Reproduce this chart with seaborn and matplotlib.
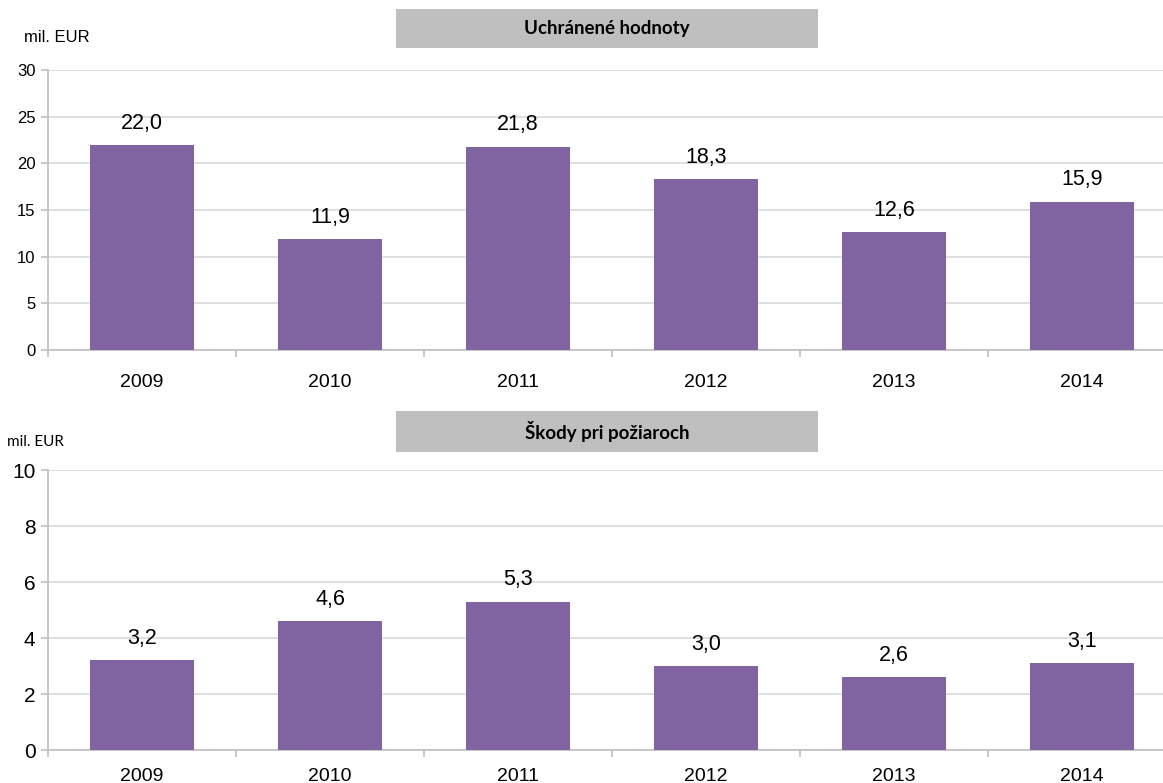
import pandas as pd
import seaborn as sns
import matplotlib.pyplot as plt
from matplotlib.patches import Rectangle

# data
years = ['2009', '2010', '2011', '2012', '2013', '2014']
saved_values = [22.0, 11.9, 21.8, 18.3, 12.6, 15.9]
fire_damage = [3.2, 4.6, 5.3, 3.0, 2.6, 3.1]

top_title = 'Uchránené hodnoty'
bottom_title = 'Škody pri požiaroch'
unit = 'mil. EUR'

bar_color = '#8064A2'
grid_color = '#D9D9D9'
axis_color = '#BFBFBF'

sns.set_style('white')
plt.rcParams['font.family'] = ['Liberation Sans', 'DejaVu Sans']
plt.rcParams['text.color'] = 'black'
plt.rcParams['xtick.color'] = 'black'
plt.rcParams['ytick.color'] = 'black'

fig = plt.figure(figsize=(11.63, 7.83), dpi=100)
W, H = 1163, 783


def px_axes(x0, y0, x1, y1):
    # pixel box (top-left origin) -> figure fraction
    return fig.add_axes([x0 / W, 1 - y1 / H, (x1 - x0) / W, (y1 - y0) / H])


def draw_panel(ax, values, ymax, ystep, ytick_size, xpad):
    df = pd.DataFrame({'year': years, 'value': values})
    sns.barplot(data=df, x='year', y='value', color=bar_color, width=0.553,
                saturation=1, linewidth=0, ax=ax, zorder=3)
    ax.set_xlim(-0.5, len(years) - 0.5)
    ax.set_ylim(0, ymax)
    ax.set_yticks(range(0, ymax + 1, ystep))
    ax.set_xlabel('')
    ax.set_ylabel('')
    ax.grid(axis='y', color=grid_color, lw=1.2, zorder=0)
    ax.grid(axis='x', visible=False)
    for s in ['top', 'right']:
        ax.spines[s].set_visible(False)
    for s in ['left', 'bottom']:
        ax.spines[s].set_color(axis_color)
        ax.spines[s].set_linewidth(1.2)
    # category boundary ticks
    ax.set_xticks([i - 0.5 for i in range(len(years) + 1)], minor=True)
    ax.tick_params(axis='x', which='major', bottom=False, length=0,
                   labelsize=14, labelcolor='black', pad=xpad)
    ax.tick_params(axis='x', which='minor', bottom=True, length=5,
                   color=axis_color, width=1.2)
    ax.tick_params(axis='y', left=True, length=5, color=axis_color, width=1.2,
                   labelsize=ytick_size, labelcolor='black', pad=4)
    labels = [f'{v:.1f}'.replace('.', ',') for v in values]
    ax.bar_label(ax.containers[0], labels=labels, padding=8, fontsize=15.5,
                 color='black')


ax1 = px_axes(48, 70, 1176, 350)
draw_panel(ax1, saved_values, 30, 5, 12, 17)

ax2 = px_axes(48, 470, 1176, 750)
draw_panel(ax2, fire_damage, 10, 2, 15, 13)

# title boxes
for (y0, y1, title) in [(9, 48, top_title), (411, 452, bottom_title)]:
    fig.patches.append(Rectangle((396 / W, 1 - y1 / H), (818 - 396) / W, (y1 - y0) / H,
                                 transform=fig.transFigure, facecolor='#BFBFBF',
                                 edgecolor='none'))
    fig.text(607 / W, 1 - (y0 + y1) / 2 / H, title, ha='center', va='center',
             fontsize=13.5, fontweight='bold', family=['Lato', 'DejaVu Sans'])

fig.text(24 / W, 1 - 37 / H, unit, ha='left', va='center', fontsize=12)
fig.text(7 / W, 1 - 442 / H, unit, ha='left', va='center', fontsize=11,
         family=['Lato', 'DejaVu Sans'])

plt.savefig('out.png', dpi=100)
plt.close()
